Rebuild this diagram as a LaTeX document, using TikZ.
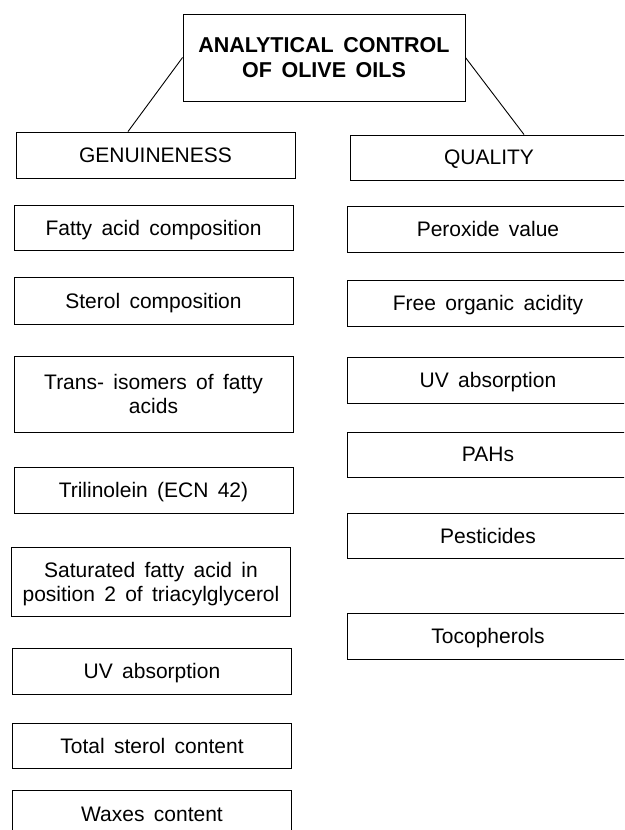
\documentclass[tikz,border=0pt]{standalone}
\usepackage{fontspec}
\setmainfont{Liberation Sans}[WordSpace=1.6]

\begin{document}
\begin{tikzpicture}[x=1pt, y=-1pt,
        box/.style={draw, line width=0.9pt, inner sep=0pt, align=center, text depth=0pt,
            font=\fontsize{21}{24}\selectfont},
        headbox/.style={box, font=\fontsize{21.5}{25}\selectfont\bfseries},
        leftbox/.style={box, minimum width=279pt},
        rightbox/.style={box, minimum width=282pt}]

            \useasboundingbox (0,0) rectangle (624,830);
            \clip (0,0) rectangle (624,830);

            % top of the tree
            \node[headbox, minimum width=282pt, minimum height=87pt] (title) at (324,57.5)
                {ANALYTICAL CONTROL\\OF OLIVE OILS};
            \node[box, minimum width=279pt, minimum height=46pt] (gen) at (155.5,155) {GENUINENESS};
            \node[box, minimum width=278pt, minimum height=45pt] (qual) at (489,157.5) {QUALITY};

            \draw[line width=0.9pt] (title.west) -- ([xshift=-27.5pt]gen.north);
            \draw[line width=0.9pt] (title.east) -- ([xshift=35pt]qual.north);

            % genuineness column
            \node[leftbox, minimum height=45pt] (fatty) at (153.5,227.5) {Fatty acid composition};
            \node[leftbox, minimum height=47pt] (sterol) at (153.5,300.5) {Sterol composition};
            \node[leftbox, minimum height=76pt] (trans) at (153.5,394) {Trans- isomers of fatty\\acids};
            \node[leftbox, minimum height=46pt] (ecn) at (153.5,490) {Trilinolein (ECN 42)};
            \node[leftbox, minimum height=69pt] (satur) at (151,581.5) {Saturated fatty acid in\\position 2 of triacylglycerol};
            \node[leftbox, minimum height=46pt] (uvgen) at (152,671) {UV absorption};
            \node[leftbox, minimum height=45pt] (totster) at (152,745.5) {Total sterol content};
            \node[leftbox, minimum height=48pt] (waxes) at (152,814) {Waxes content};

            % quality column
            \node[rightbox, minimum height=46pt] (perox) at (488,229) {Peroxide value};
            \node[rightbox, minimum height=46pt] (acid) at (488,303) {Free organic acidity};
            \node[rightbox, minimum height=46pt] (uvqual) at (488,380) {UV absorption};
            \node[rightbox, minimum height=45pt] (pah) at (488,454.5) {PAHs};
            \node[rightbox, minimum height=45pt] (pest) at (488,535.5) {Pesticides};
            \node[rightbox, minimum height=46pt] (toco) at (488,636) {Tocopherols};

        \end{tikzpicture}
\end{document}
